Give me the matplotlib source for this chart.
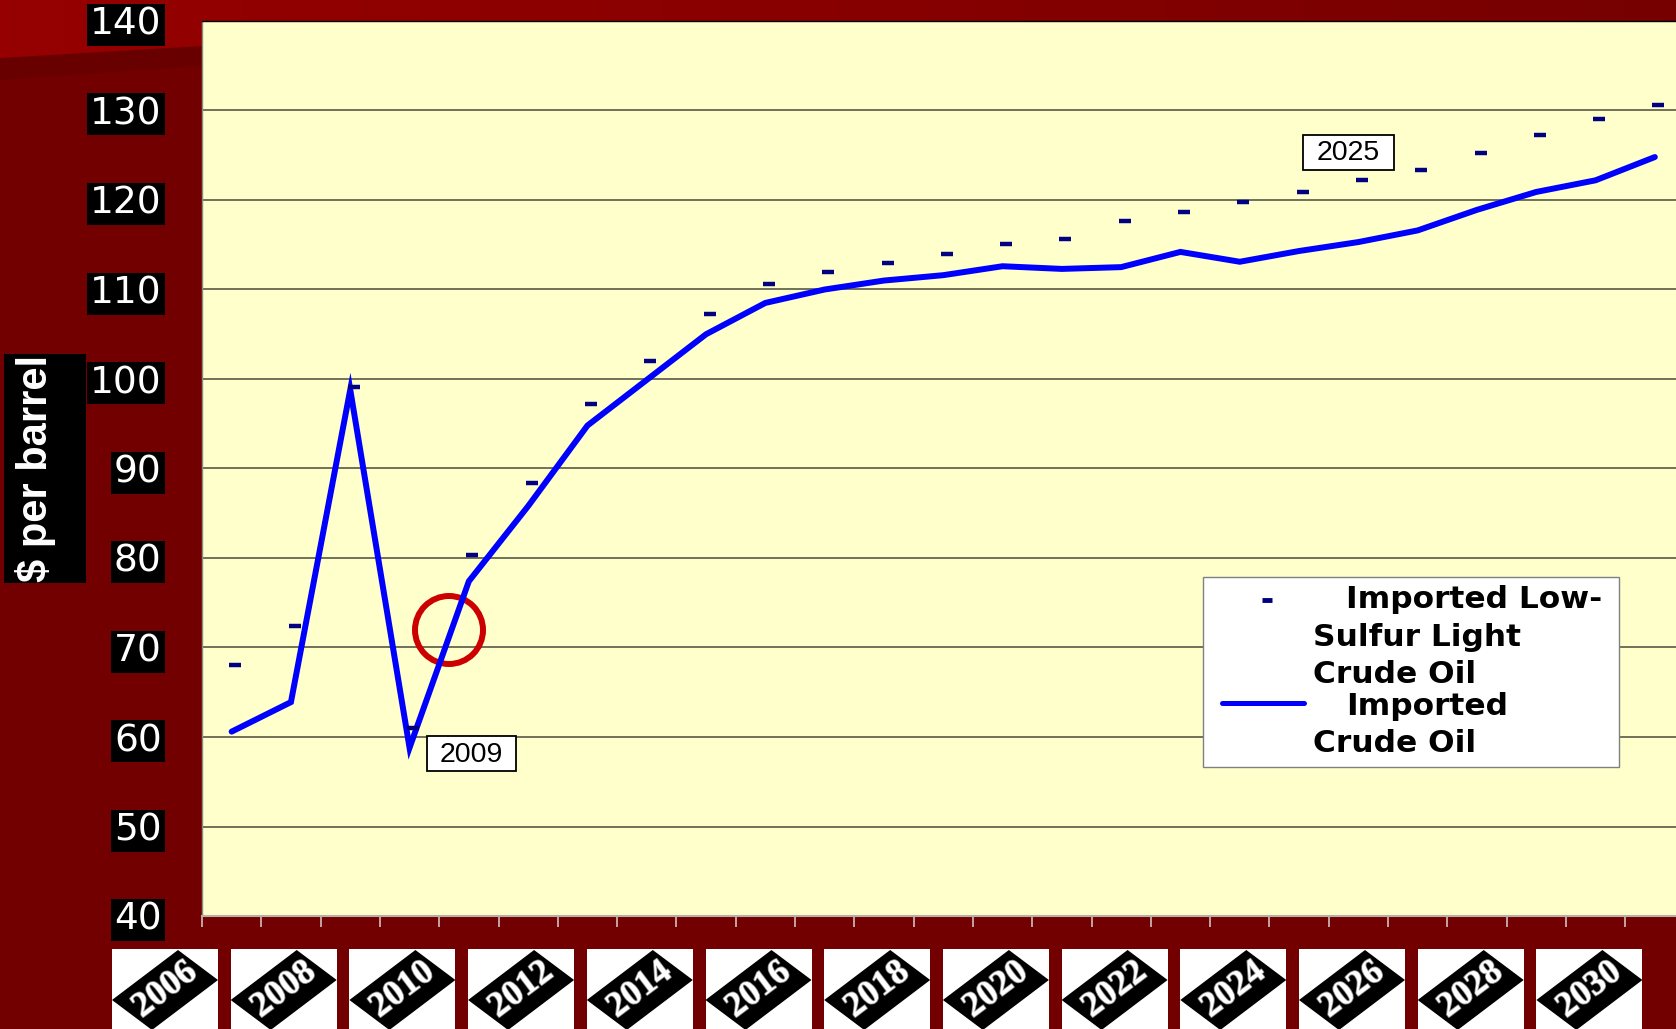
#!/usr/bin/env python3
"""
Imported crude oil price projection, $ per barrel (2006-2030)
"""

import numpy as np
import matplotlib
matplotlib.use('Agg')
import matplotlib.pyplot as plt
import matplotlib.patheffects as pe
from matplotlib import font_manager
from matplotlib.patches import Rectangle, Circle, Polygon
from matplotlib.colors import LinearSegmentedColormap

# data
years = list(range(2006, 2031))
imported_crude = [60.6, 63.9, 98.8, 58.8, 77.4, 85.8, 94.8, 99.9, 105.0, 108.5,
                  110.0, 111.0, 111.6, 112.6, 112.3, 112.5, 114.2, 113.1, 114.3,
                  115.3, 116.6, 118.9, 120.9, 122.2, 124.8]
low_sulfur_light = [68.0, 72.4, 99.1, 61.0, 80.3, 88.4, 97.2, 102.0, 107.3, 110.6,
                    111.9, 113.0, 114.0, 115.1, 115.6, 117.7, 118.7, 119.8, 120.9,
                    122.2, 123.4, 125.3, 127.3, 129.0, 130.6]
yticks = list(range(40, 141, 10))
year_labels = [str(y) for y in years[::2]]

W, H = 1676, 1029
fig = plt.figure(figsize=(W / 100, H / 100), dpi=100)

# slide background
bg = fig.add_axes([0, 0, 1, 1])
bg.set_zorder(0)
bg.axis('off')
bg.add_patch(Rectangle((0, 0), W, H, color='#720000', zorder=0))
bg.add_patch(Polygon([(0, 58), (202, 46), (202, 66), (0, 80)], color='#690000',
                     lw=0, zorder=1))
cmap = LinearSegmentedColormap.from_list('top', ['#960000', '#880000', '#760000'])
im = bg.imshow(np.linspace(0, 1, 256).reshape(1, -1), cmap=cmap, aspect='auto',
               extent=(0, W, 60, 0), zorder=2)
clip = Polygon([(0, 0), (W, 0), (W, 20), (202, 46), (0, 58)], closed=True,
               fc='none', ec='none')
bg.add_patch(clip)
im.set_clip_path(clip)
bg.set_xlim(0, W)
bg.set_ylim(H, 0)

# overlay in pixel coords (y down) for slide decorations
ov = fig.add_axes([0, 0, 1, 1])
ov.set_zorder(2)
ov.patch.set_alpha(0)
ov.axis('off')
ov.set_xlim(0, W)
ov.set_ylim(H, 0)

# chart
ax = fig.add_axes([202 / W, (H - 916) / H, 25 * 59.3 / W, 895 / H])
ax.set_zorder(1)
ax.set_facecolor('#FFFFCC')

x = np.arange(len(years))
ax.plot(x, imported_crude, color='#0000FF', lw=4.3,
        solid_joinstyle='miter', solid_capstyle='round', zorder=3)
ax.plot(x + 0.06, low_sulfur_light, ls='none', marker='_', ms=8, mew=3.2,
        color='#000080', zorder=4)

# red circle around 2010
ax.add_patch(Circle((449, 630), 34, transform=ov.transData, fill=False,
                    ec='#CC0000', lw=4.3, zorder=2.5))

ax.set_xlim(-0.5, len(years) - 0.5)
ax.set_ylim(40, 140)
ax.set_yticks(yticks)
ax.set_xticks(np.arange(-0.5, len(years) - 1, 1))
ax.grid(axis='y', color='#4a4a3a', lw=1.1)
ax.set_axisbelow(True)

ax.tick_params(axis='x', length=8, width=1.1, color='#d8d0d0',
               direction='out', labelbottom=False)
ax.tick_params(axis='y', length=0, pad=29, labelsize=27, labelcolor='white')
for t in ax.get_yticklabels():
    t.set_bbox(dict(boxstyle='square,pad=0.08', fc='black', ec='none'))

ax.spines['right'].set_visible(False)
ax.spines['top'].set_color('black')
ax.spines['top'].set_linewidth(1)
ax.spines['left'].set_color('#8a8a80')
ax.spines['left'].set_linewidth(1)
ax.spines['bottom'].set_color('#b8b0a8')
ax.spines['bottom'].set_linewidth(1.5)

# callout labels
for (bx, by, bw, bh), txt in [((427, 736, 89, 35), '2009'),
                              ((1303, 134.5, 91, 35), '2025')]:
    ov.add_patch(Rectangle((bx, by), bw, bh, fc='white', ec='black', lw=1.3))
    ov.text(bx + bw / 2, by + bh / 2 + 1, txt, ha='center', va='center',
            fontsize=20.5, family='Liberation Sans', color='black')

# legend
ov.add_patch(Rectangle((1203, 577), 416, 190, fc='white', ec='#808080', lw=1))
ov.plot([1266.7], [599.5], marker='_', ms=7.5, mew=3.5, color='#000080')
ov.plot([1222, 1304], [702.5, 702.5], color='#0000FF', lw=3.6,
        solid_capstyle='round')
leg_font = dict(fontsize=22.5, weight='bold', family='DejaVu Sans',
                color='black', va='baseline', ha='left')
ov.text(1345.7, 608, 'Imported Low-', **leg_font)
ov.text(1313, 646, 'Sulfur Light', **leg_font)
ov.text(1313, 683, 'Crude Oil', **leg_font)
ov.text(1345.7, 715, 'Imported', **leg_font)
ov.text(1313, 752, 'Crude Oil', **leg_font)

# y axis title, condensed bold on black (narrow face if it is installed)
installed = {f.name for f in font_manager.fontManager.ttflist}
if 'Liberation Sans Narrow' in installed:
    title_family, title_size = 'Liberation Sans Narrow', 34
else:
    title_family, title_size = 'Liberation Sans', 30
ov.add_patch(Rectangle((4, 354), 82, 229, fc='black', ec='none'))
ov.text(36, 468.5, '$ per barrel', rotation=90, ha='center', va='center',
        color='white', fontsize=title_size, weight='bold', family=title_family)

# year label tiles under the axis (skewed black plates with white serif digits)
for i, lbl in enumerate(year_labels):
    c = 165 + i * 118.7
    cy = 990
    ov.add_patch(Rectangle((c - 53, 949), 106, 90, fc='white', ec='none'))
    ov.add_patch(Polygon([(c - 53, cy + 10), (c + 13, cy - 40),
                          (c + 53, cy - 10), (c - 13, cy + 40)],
                         closed=True, fc='black', ec='none'))
    ov.text(c, cy, lbl, rotation=37, rotation_mode='anchor', ha='center',
            va='center', color='white', fontsize=25.5, weight='bold',
            family='Liberation Serif',
            path_effects=[pe.withStroke(linewidth=1.2, foreground='#8a8a8a')])

fig.savefig('out.png', dpi=100)
print("Saved: out.png")
